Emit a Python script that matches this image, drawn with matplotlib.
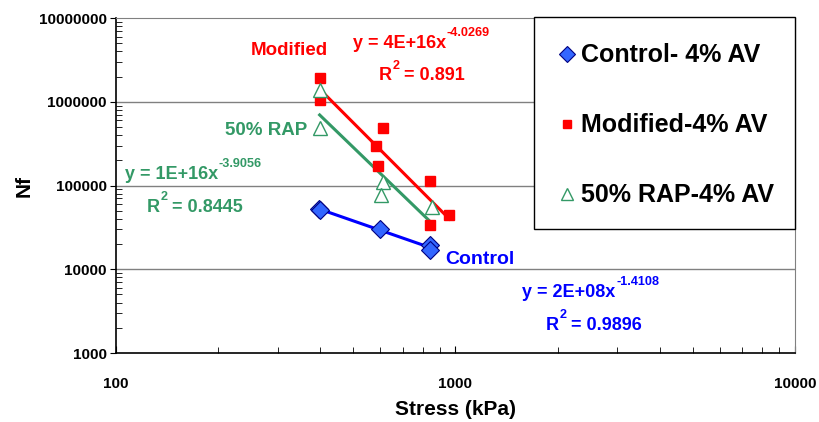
import numpy as np
import matplotlib
matplotlib.use("Agg")
import matplotlib.pyplot as plt
from matplotlib.patches import Rectangle

plt.rcParams["font.family"] = ["Liberation Sans", "DejaVu Sans"]
plt.rcParams["font.weight"] = "bold"
plt.rcParams["axes.labelweight"] = "bold"

# fatigue life data (stress in kPa, cycles to failure)
control_stress = [395, 400, 600, 843, 843]
control_nf = [53000, 51000, 30000, 19300, 16800]

modified_stress = [398, 398, 610, 582, 590, 839, 839, 960]
modified_nf = [1900000, 1050000, 480000, 300000, 170000, 112000, 34000, 44000]

rap_stress = [398, 398, 610, 605, 850]
rap_nf = [1390000, 490000, 109000, 76000, 54700]

series_labels = ["Control- 4% AV", "Modified-4% AV", "50% RAP-4% AV"]
x_ticks = [100, 1000, 10000]
y_ticks = [1000, 10000, 100000, 1000000, 10000000]

RED = "#FF0000"
GREEN = "#339966"
BLUE = "#0000FF"


def power_trend(stress, nf):
    """Power-law trendline over the range of the data (fit in log space)."""
    lx, ly = np.log10(stress), np.log10(nf)
    slope, icept = np.polyfit(lx, ly, 1)
    xs = np.logspace(lx.min(), lx.max(), 50)
    return xs, 10 ** icept * xs ** slope


def label_with_sup(ax, x, y, base, sup, tail="", color="k", size=13):
    """Text with a small raised part, e.g. an exponent or R^2."""
    main = ax.text(x, y, base, color=color, fontsize=size, ha="left", va="baseline")
    s = ax.annotate(sup, xy=(1, 1), xycoords=main, xytext=(0.5, -3), textcoords="offset points",
                    color=color, fontsize=size * 0.7, ha="left", va="bottom")
    if tail:
        # x follows the raised part, y sits on the base text
        ax.annotate(tail, xy=(1, 0), xycoords=(s, main), xytext=(0, 0), textcoords="offset points",
                    color=color, fontsize=size, ha="left", va="bottom")
    return main


fig = plt.figure(figsize=(8.19, 4.22), dpi=100)
ax = fig.add_axes([0.1416, 0.1635, 0.8291, 0.7938])
ax.set_xscale("log")
ax.set_yscale("log")
ax.set_xlim(100, 10000)
ax.set_ylim(1000, 10000000)

for y in y_ticks[1:-1]:
    ax.axhline(y, color="#808080", lw=1.0, zorder=0)

h_ctrl, = ax.plot(control_stress, control_nf, "D", ms=9, mfc="#3366FF", mec="#000080", mew=0.8, ls="none", zorder=4)
h_mod, = ax.plot(modified_stress, modified_nf, "s", ms=7.5, mfc=RED, mec=RED, ls="none", zorder=4)
h_rap, = ax.plot(rap_stress, rap_nf, "^", ms=10, mfc="white", mec=GREEN, mew=1.0, ls="none", zorder=5)

for stress, nf, color in [(control_stress, control_nf, BLUE),
                          (modified_stress, modified_nf, RED),
                          (rap_stress, rap_nf, GREEN)]:
    xs, ys = power_trend(stress, nf)
    ax.plot(xs, ys, color=color, lw=2.2, zorder=3)

# series names and trendline equations
ax.text(249, 4.15e6, "Modified", color=RED, fontsize=13.5, ha="left", va="center")
label_with_sup(ax, 498, 4.38e6, "y = 4E+16x", "-4.0269", color=RED)
label_with_sup(ax, 593, 1.8e6, "R", "2", " = 0.891", color=RED)

ax.text(209, 4.6e5, "50% RAP", color=GREEN, fontsize=13.5, ha="left", va="center")
label_with_sup(ax, 106, 1.2e5, "y = 1E+16x", "-3.9056", color=GREEN)
label_with_sup(ax, 123, 4.83e4, "R", "2", " = 0.8445", color=GREEN)

ax.text(934, 1.29e4, "Control", color=BLUE, fontsize=14, ha="left", va="center")
label_with_sup(ax, 1574, 4.67e3, "y = 2E+08x", "-1.4108", color=BLUE)
label_with_sup(ax, 1841, 1.884e3, "R", "2", " = 0.9896", color=BLUE)

ax.set_xticks(x_ticks)
ax.set_xticklabels([str(v) for v in x_ticks])
ax.set_yticks(y_ticks)
ax.set_yticklabels([str(v) for v in y_ticks])
ax.tick_params(axis="x", which="both", direction="in", labelsize=11, pad=17)
ax.tick_params(axis="x", which="major", length=5)
ax.tick_params(axis="x", which="minor", length=4)
ax.tick_params(axis="y", which="major", direction="out", labelsize=11, length=4, pad=2.5)
ax.tick_params(axis="y", which="minor", direction="in", length=4)

for side in ("top", "right"):
    ax.spines[side].set_color("#808080")
for side in ("left", "bottom"):
    ax.spines[side].set_color("black")
    ax.spines[side].set_linewidth(1.2)

ax.set_xlabel("Stress (kPa)", fontsize=15, labelpad=7)
ax.set_ylabel("Nf", fontsize=15, labelpad=4)

# legend box drawn on its own so the inner padding can differ per side
ax.add_patch(Rectangle((0.6156, 0.370), 0.3844, 0.633, transform=ax.transAxes,
                       fc="white", ec="black", lw=1.0, clip_on=False, zorder=6))
leg = ax.legend([h_ctrl, h_mod, h_rap], series_labels, loc="upper right",
                bbox_to_anchor=(1.0074, 1.003), borderaxespad=0, fontsize=18,
                frameon=False, borderpad=1.05, labelspacing=1.84,
                handlelength=0.5, handletextpad=0.3, markerscale=0.85)
leg.set_zorder(7)

fig.savefig("out.png", dpi=100)
